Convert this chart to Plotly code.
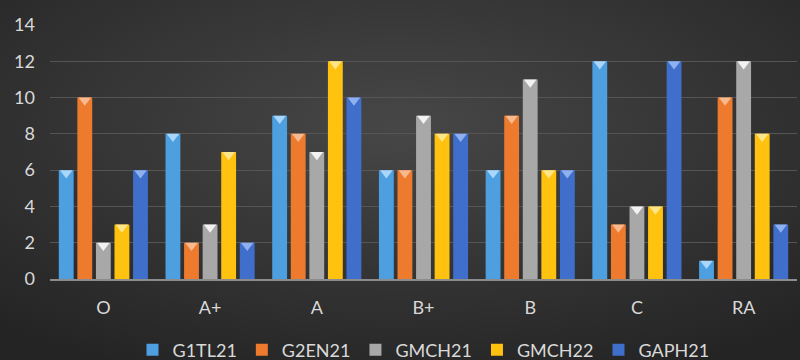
import base64
import plotly.graph_objects as go

categories = ["O", "A+", "A", "B+", "B", "C", "RA"]
series_names = ["G1TL21", "G2EN21", "GMCH21", "GMCH22", "GAPH21"]
g1tl21 = [6, 8, 9, 6, 6, 12, 1]
g2en21 = [10, 2, 8, 6, 9, 3, 10]
gmch21 = [2, 3, 7, 9, 11, 4, 12]
gmch22 = [3, 7, 12, 8, 6, 4, 8]
gaph21 = [6, 2, 10, 8, 6, 12, 3]
y_ticks = [0, 2, 4, 6, 8, 10, 12, 14]

series_values = [g1tl21, g2en21, gmch21, gmch22, gaph21]
colors = ["#4E9FE0", "#EE7A2E", "#A8A8A8", "#FFC20E", "#3F6FCB"]
cap_colors = ["#A9D6FA", "#F8B98E", "#F2F2F2", "#FFE58A", "#8FB0EE"]

# plot-area geometry (pixels)
W, H = 800, 360
ML, MR, MT, MB = 50, 3, 25, 81
PW, PH = W - ML - MR, H - MT - MB
Y_MAX = 14
cap_size = 11
cap_shift = (cap_size / 4) * Y_MAX / PH  # place cap's top edge at bar top

fig = go.Figure()
for name, vals, col in zip(series_names, series_values, colors):
    fig.add_trace(go.Bar(
        x=categories, y=vals, name=name, offsetgroup=name,
        marker=dict(color=col, line=dict(width=0)),
    ))
for name, vals, cc in zip(series_names, series_values, cap_colors):
    fig.add_trace(go.Scatter(
        x=categories, y=[v - cap_shift for v in vals], mode="markers",
        offsetgroup=name, showlegend=False, hoverinfo="skip",
        marker=dict(symbol="triangle-down", size=cap_size, color=cc,
                    line=dict(width=0)),
    ))

svg = (
    '<svg xmlns="http://www.w3.org/2000/svg" width="800" height="360">'
    '<defs><radialGradient id="g" cx="50%" cy="35%" r="75%">'
    '<stop offset="0" stop-color="#474747"/>'
    '<stop offset="1" stop-color="#242424"/>'
    '</radialGradient></defs>'
    '<rect width="800" height="360" fill="url(#g)"/></svg>'
)
bg_src = "data:image/svg+xml;base64," + base64.b64encode(svg.encode()).decode()

font_family = "Lato, Open Sans, sans-serif"
fig.update_layout(
    width=W, height=H,
    barmode="group", bargap=0.13, bargroupgap=0.2,
    scattermode="group", scattergap=0.13,
    paper_bgcolor="#333333", plot_bgcolor="rgba(0,0,0,0)",
    margin=dict(l=ML, r=MR, t=MT, b=MB, autoexpand=False),
    font=dict(family=font_family, color="#D9D9D9", size=18),
    showlegend=True,
    images=[dict(
        source=bg_src, xref="paper", yref="paper",
        x=-ML / PW, y=1 + MT / PH, sizex=W / PW, sizey=H / PH,
        xanchor="left", yanchor="top", sizing="stretch", layer="below",
    )],
    legend=dict(
        orientation="h", x=0.5, xanchor="center",
        y=-71 / PH, yanchor="middle",
        font=dict(size=18, color="#D9D9D9"),
        bgcolor="rgba(0,0,0,0)", itemwidth=30, traceorder="normal",
    ),
    xaxis=dict(
        showgrid=False, ticks="", ticklabelstandoff=11,
        showline=True, linecolor="#8C8C8C", linewidth=2,
        tickfont=dict(size=18, color="#D9D9D9"),
    ),
    yaxis=dict(
        range=[0, Y_MAX], tickvals=y_ticks, showgrid=True,
        gridcolor="#555555", gridwidth=1, zeroline=False,
        ticks="", ticklabelstandoff=14,
        tickfont=dict(size=18, color="#D9D9D9"),
    ),
)

fig.write_html(
    "out.html",
    config={"displayModeBar": False},
    post_script="document.body.style.margin='0';document.body.style.overflow='hidden';",
)
